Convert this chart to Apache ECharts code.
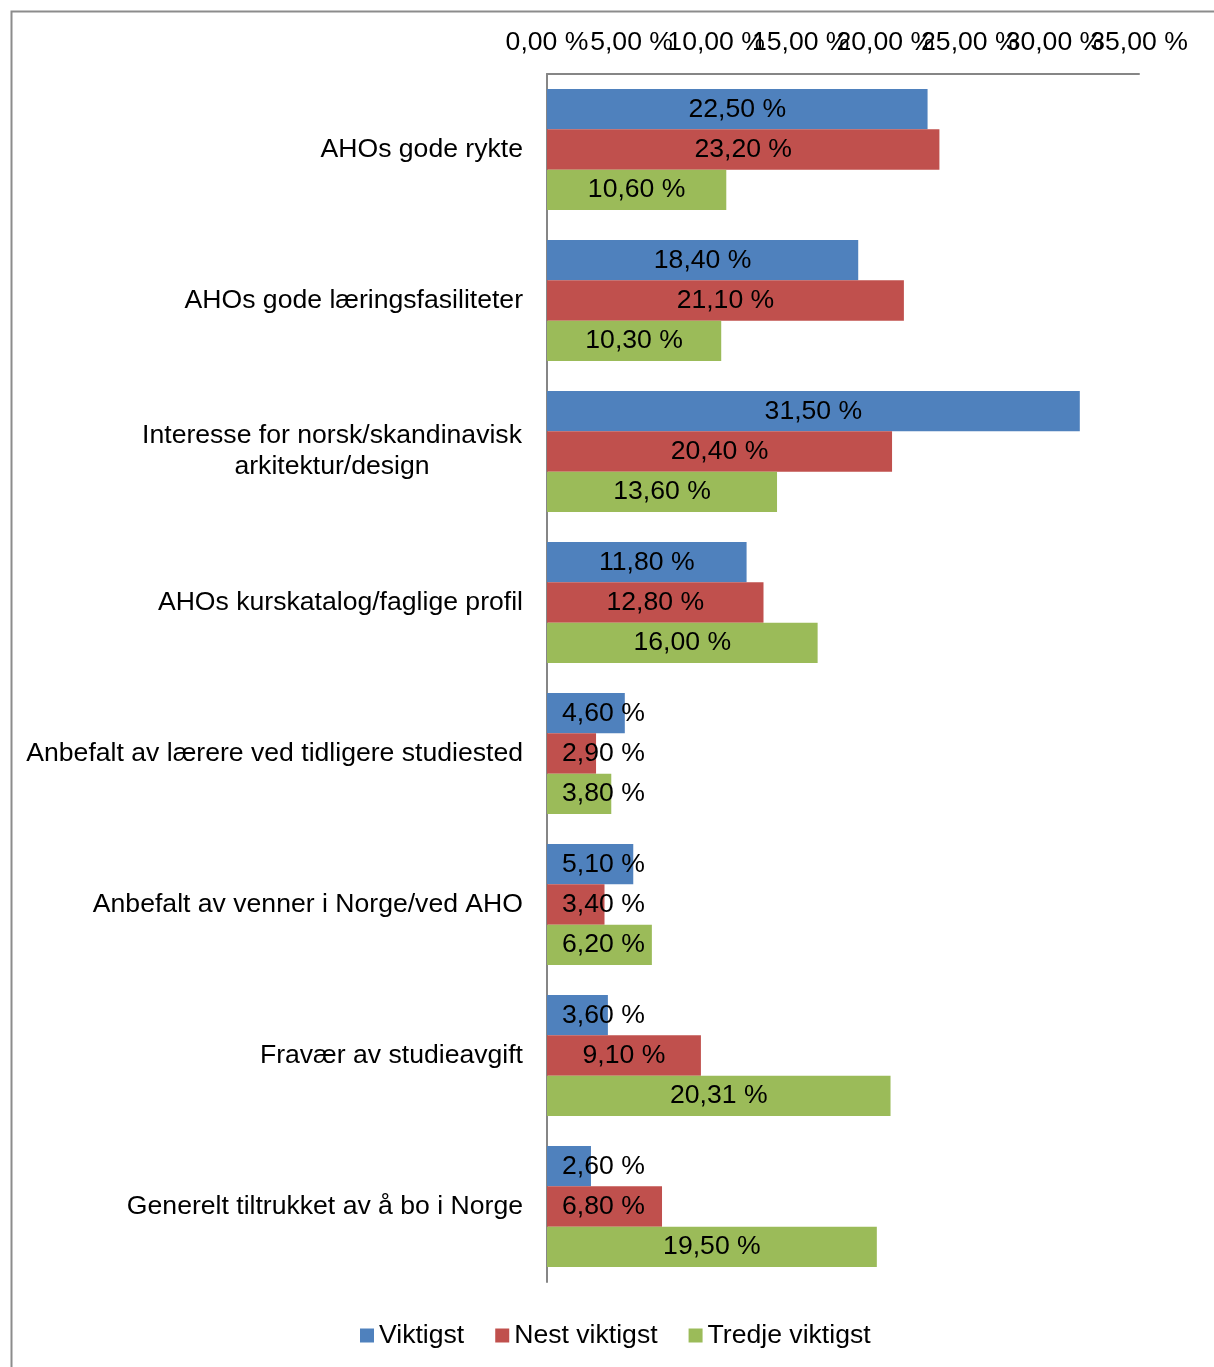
<!DOCTYPE html>
<html>
<head>
<meta charset="utf-8">
<script src="https://cdn.jsdelivr.net/npm/echarts@6/dist/echarts.min.js"></script>
<style>
html,body{margin:0;padding:0;background:#fff;}
#chart{width:1214px;height:1367px;}
</style>
</head>
<body>
<div id="chart"></div>
<script>
const categories = [
  'AHOs gode rykte',
  'AHOs gode læringsfasiliteter',
  'Interesse for norsk/skandinavisk\narkitektur/design',
  'AHOs kurskatalog/faglige profil',
  'Anbefalt av lærere ved tidligere studiested',
  'Anbefalt av venner i Norge/ved AHO',
  'Fravær av studieavgift',
  'Generelt tiltrukket av å bo i Norge'
];
const seriesNames = ['Viktigst', 'Nest viktigst', 'Tredje viktigst'];
const viktigst = [22.5, 18.4, 31.5, 11.8, 4.6, 5.1, 3.6, 2.6];
const nestViktigst = [23.2, 21.1, 20.4, 12.8, 2.9, 3.4, 9.1, 6.8];
const tredjeViktigst = [10.6, 10.3, 13.6, 16.0, 3.8, 6.2, 20.31, 19.5];
const colors = ['#4F81BD', '#C0504D', '#9BBB59'];
const axisMin = 0, axisMax = 35, axisStep = 5;
// second-to-last tick is drawn on an overlay axis so ECharts does not drop it for overlapping the max label
const overlayTick = 30;

const FONT = '"Liberation Sans", Arial, sans-serif';
const FS = 26.6;
const fmt = v => v.toFixed(2).replace('.', ',') + ' %';

function makeSeries(name, values, color) {
  return {
    name: name,
    type: 'bar',
    xAxisIndex: 0,
    barGap: '0%',
    barCategoryGap: '20%',
    itemStyle: { color: color },
    data: values.map(v => ({
      value: v,
      label: v < 7 ? { position: 'insideLeft', distance: 15 } : { position: 'inside' }
    })),
    label: {
      show: true,
      color: '#000',
      fontSize: FS,
      fontFamily: FONT,
      formatter: p => fmt(p.value)
    }
  };
}

function xAxisDef(showFn, showLine) {
  return {
    type: 'value',
    position: 'top',
    min: axisMin, max: axisMax, interval: axisStep,
    axisLine: { show: showLine, onZero: false, lineStyle: { color: '#868686', width: 2 } },
    axisTick: { show: false },
    splitLine: { show: false },
    axisLabel: {
      color: '#000', fontSize: FS, fontFamily: FONT, margin: 18,
      showMinLabel: true, showMaxLabel: true, hideOverlap: false,
      formatter: v => (showFn(v) ? fmt(v) : '')
    }
  };
}

const chart = echarts.init(document.getElementById('chart'));
chart.setOption({
  animation: false,
  backgroundColor: '#fff',
  textStyle: { fontFamily: FONT },
  graphic: [{
    type: 'rect',
    left: 9, top: 9,
    shape: { width: 1300, height: 1400 },
    style: { fill: 'none', stroke: '#8c8c8c', lineWidth: 2 },
    silent: true
  }],
  grid: { left: 547, right: 75, top: 74, bottom: 85, containLabel: false },
  xAxis: [
    xAxisDef(v => Math.abs(v - overlayTick) > 1e-9, true),
    xAxisDef(v => Math.abs(v - overlayTick) < 1e-9, false)
  ],
  yAxis: {
    type: 'category',
    inverse: true,
    data: categories,
    axisLine: { show: true, lineStyle: { color: '#868686', width: 2 } },
    axisTick: { show: false },
    axisLabel: {
      color: '#000', fontSize: FS, fontFamily: FONT, margin: 24, lineHeight: 31,
      formatter: v => {
        if (v.indexOf('\n') >= 0) {
          return v.split('\n').map(s => '{c|' + s + '}').join('\n');
        }
        return v;
      },
      rich: {
        c: { width: 382, align: 'center', fontSize: FS, fontFamily: FONT, color: '#000', lineHeight: 31 }
      }
    }
  },
  legend: {
    left: 355, bottom: 13,
    icon: 'rect',
    itemWidth: 14, itemHeight: 14,
    itemGap: 31,
    textStyle: { color: '#000', fontSize: FS, fontFamily: FONT },
    data: seriesNames
  },
  series: [
    makeSeries(seriesNames[0], viktigst, colors[0]),
    makeSeries(seriesNames[1], nestViktigst, colors[1]),
    makeSeries(seriesNames[2], tredjeViktigst, colors[2])
  ]
});
</script>
</body>
</html>
